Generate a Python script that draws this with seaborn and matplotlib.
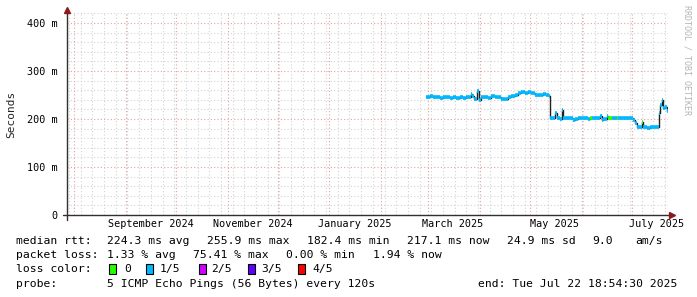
import numpy as np
import pandas as pd
import matplotlib
matplotlib.use("Agg")
import matplotlib.pyplot as plt
from matplotlib.lines import Line2D
from matplotlib.patches import Rectangle
import seaborn as sns

# ---------------- data ----------------
dates = ["2025-02-28", "2025-03-02", "2025-03-04", "2025-03-06", "2025-03-08", "2025-03-10",
         "2025-03-12", "2025-03-14", "2025-03-16", "2025-03-18", "2025-03-20", "2025-03-22",
         "2025-03-24", "2025-03-26 12:00", "2025-03-27 12:00", "2025-03-28 12:00", "2025-03-30 12:00",
         "2025-03-31 12:00", "2025-04-02", "2025-04-04", "2025-04-06", "2025-04-08", "2025-04-10",
         "2025-04-12", "2025-04-14", "2025-04-16", "2025-04-18", "2025-04-20", "2025-04-22",
         "2025-04-24", "2025-04-26", "2025-04-28", "2025-04-30", "2025-05-02", "2025-05-04",
         "2025-05-06", "2025-05-08", "2025-05-09", "2025-05-11", "2025-05-12 12:00", "2025-05-13",
         "2025-05-15", "2025-05-16", "2025-05-17", "2025-05-19", "2025-05-20 12:00", "2025-05-21",
         "2025-05-23", "2025-05-25", "2025-05-27", "2025-05-28", "2025-05-30", "2025-06-01",
         "2025-06-03", "2025-06-05", "2025-06-06", "2025-06-07", "2025-06-09", "2025-06-11",
         "2025-06-12", "2025-06-13", "2025-06-14", "2025-06-16", "2025-06-17", "2025-06-19",
         "2025-06-21", "2025-06-22", "2025-06-23", "2025-06-25", "2025-06-27", "2025-06-29",
         "2025-07-01", "2025-07-02", "2025-07-03", "2025-07-04", "2025-07-07", "2025-07-08",
         "2025-07-10", "2025-07-12", "2025-07-14", "2025-07-16 12:00", "2025-07-17 12:00",
         "2025-07-18", "2025-07-19", "2025-07-20", "2025-07-21", "2025-07-22"]
median_ms = [246, 247, 245, 246, 244, 245,
             245, 244, 246, 244, 245, 244,
             246, 253, 247, 241, 258,
             240, 246, 245, 244, 247, 246,
             245, 242, 241, 245, 247, 250,
             255, 256, 255, 256, 254, 250,
             251, 250, 253, 250, 248, 203,
             202, 212, 202, 201, 219, 203,
             202, 202, 197, 201, 203, 202,
             202, 201, 202, 202, 202, 203,
             207, 197, 201, 207, 203, 202,
             202, 203, 202, 202, 202, 203,
             202, 197, 191, 183, 194, 183,
             182, 183, 183, 183, 212,
             229, 240, 222, 226, 217]
loss_idx = [1] * len(median_ms)
for d in ("2025-06-06", "2025-06-17", "2025-06-22", "2025-07-07"):
    loss_idx[dates.index(d)] = 0

loss_labels = ["0", "1/5", "2/5", "3/5", "4/5"]
loss_colors = ["#26ff00", "#00b8ff", "#d400ff", "#6000ff", "#ff0000"]

y_ticks_s = [0, 0.1, 0.2, 0.3, 0.4]
y_tick_labels = ["0", "100 m", "200 m", "300 m", "400 m"]
month_labels = ["September 2024", "November 2024", "January 2025", "March 2025", "May 2025", "July 2025"]
month_label_starts = ["2024-09-01", "2024-11-01", "2025-01-01", "2025-03-01", "2025-05-01", "2025-07-01"]

end_time = pd.Timestamp("2025-07-22 18:54:30")
start_time = end_time - pd.Timedelta(days=360)

# ---------------- figure ----------------
W, H = 697, 297
sns.set_style("white")
plt.rcParams["font.family"] = ["DejaVu Sans Mono"]
fig = plt.figure(figsize=(W / 100, H / 100), dpi=100)

def fx(x):
    return x / W

def fy(y):
    return 1 - y / H

ax_l, ax_r, ax_b, ax_t = 67, 668, 215, 13
ax = fig.add_axes([fx(ax_l), fy(ax_b), (ax_r - ax_l) / W, (ax_b - ax_t) / H])
ax.set_facecolor("white")
ymax = 0.4208
ax.set_xlim(start_time, end_time)
ax.set_ylim(0, ymax)
for s in ax.spines.values():
    s.set_visible(False)

minor_kw = dict(color="#d2d2d2", lw=0.8, ls=(0, (1, 2)), zorder=0)
major_kw = dict(color="#e8a0a0", lw=0.8, ls=(0, (1, 2)), zorder=0)

# horizontal grid
for v in np.arange(0.02, ymax, 0.02):
    if abs(v * 10 - round(v * 10)) < 1e-6:
        ax.axhline(v, **major_kw)
    else:
        ax.axhline(v, **minor_kw)

# vertical grid: weekly (Mondays) and monthly
weeks = pd.date_range(start_time.normalize(), end_time, freq="W-MON")
months = pd.date_range(start_time.normalize(), end_time, freq="MS")
for w in weeks:
    if w not in months:
        ax.axvline(w, **minor_kw)
for m in months:
    ax.axvline(m, **major_kw)

# data
df = pd.DataFrame({"t": pd.to_datetime(dates, format="mixed"),
                   "rtt": np.array(median_ms) / 1000.0, "loss": loss_idx})
sns.lineplot(data=df, x="t", y="rtt", drawstyle="steps-post", estimator=None,
             color="#202020", lw=1.0, ax=ax, zorder=3)
t_next = np.array(list(df["t"].iloc[1:]) + [end_time], dtype="datetime64[ns]")
for li, col in enumerate(loss_colors):
    sel = (df["loss"] == li).values
    if sel.any():
        ax.hlines(df["rtt"].values[sel], df["t"].values[sel], t_next[sel],
                  colors=col, lw=2.6, zorder=4)

# ticks
ax.set_yticks(y_ticks_s)
ax.set_yticklabels(y_tick_labels)
label_pos = [pd.Timestamp(d) + pd.Timedelta(days=15) for d in month_label_starts]
ax.set_xticks(label_pos)
ax.set_xticklabels(month_labels)
ax.tick_params(axis="both", length=0, labelsize=7.3, colors="#000000")
ax.tick_params(axis="y", pad=7)
ax.tick_params(axis="x", pad=3)
ax.set_xlabel("")
ax.set_ylabel("")

# axes lines with arrows
axis_col = "#303030"
arrow_col = "#8b1a1a"
fig.add_artist(Line2D([fx(67), fx(67)], [fy(220), fy(12)], color=axis_col, lw=1.0, transform=fig.transFigure))
fig.add_artist(Line2D([fx(63), fx(670)], [fy(215), fy(215)], color=axis_col, lw=1.0, transform=fig.transFigure))
fig.add_artist(Line2D([fx(67)], [fy(10)], marker="^", ms=5, color=arrow_col, transform=fig.transFigure))
fig.add_artist(Line2D([fx(672)], [fy(215)], marker=">", ms=5, color=arrow_col, transform=fig.transFigure))

# y label
fig.text(fx(11), fy(114), "Seconds", rotation=90, ha="center", va="center", fontsize=8)

# watermark
fig.text(fx(687), fy(60), "RRDTOOL / TOBI OETIKER", rotation=270, ha="center", va="center",
         fontsize=6, color="#b4b4b4")

# legend text
fs = 8.2
row_y = [241.3, 255.3, 268.7, 283.7]
def t(x, y, s):
    fig.text(fx(x), fy(y), s, ha="left", va="center", fontsize=fs, color="#000000")

t(16, row_y[0], "median rtt:")
for x, s in [(107.3, "224.3 ms avg"), (207.3, "255.9 ms max"), (307.3, "182.4 ms min"),
             (407.3, "217.1 ms now"), (507, "24.9 ms sd"), (592, "9.0"), (635, "am/s")]:
    t(x, row_y[0], s)
t(16, row_y[1], "packet loss:")
for x, s in [(107.3, "1.33 % avg"), (193.3, "75.41 % max"), (286, "0.00 % min"), (372.7, "1.94 % now")]:
    t(x, row_y[1], s)
t(16, row_y[2], "loss color:")
box_x = [108.7, 146.3, 199.3, 247.7, 298]
lab_x = [124, 160, 210.7, 261.7, 312.3]
for bx, lx, lab, col in zip(box_x, lab_x, loss_labels, loss_colors):
    fig.add_artist(Rectangle((fx(bx), fy(row_y[2] + 5)), 7 / W, 10 / H, transform=fig.transFigure,
                             facecolor=col, edgecolor="#000000", lw=0.8))
    t(lx, row_y[2], lab)
t(16, row_y[3], "probe:")
t(107.3, row_y[3], "5 ICMP Echo Pings (56 Bytes) every 120s")
t(478, row_y[3], "end: Tue Jul 22 18:54:30 2025")

fig.savefig("out.png", dpi=100, facecolor="white")
